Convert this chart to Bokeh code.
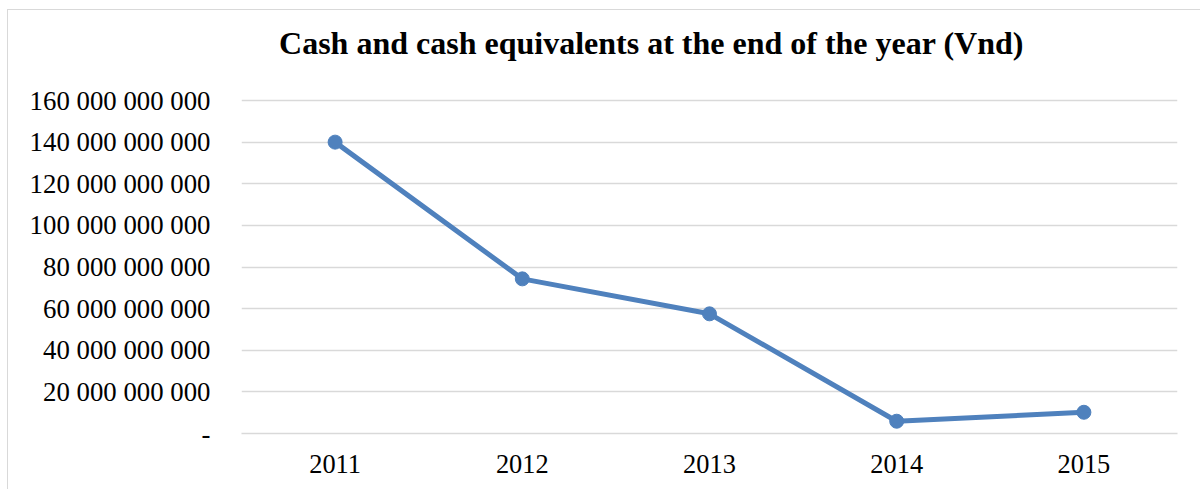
from bokeh.plotting import figure
from bokeh.models import FixedTicker, Range1d, Label
from bokeh.embed import file_html
from bokeh.resources import INLINE

years = ["2011", "2012", "2013", "2014", "2015"]
cash = [140.0e9, 74.3e9, 57.5e9, 5.9e9, 10.2e9]
tick_values = [0, 20e9, 40e9, 60e9, 80e9, 100e9, 120e9, 140e9, 160e9]
tick_labels = ["-", "20 000 000 000", "40 000 000 000", "60 000 000 000",
               "80 000 000 000", "100 000 000 000", "120 000 000 000",
               "140 000 000 000", "160 000 000 000"]
title_text = "Cash and cash equivalents at the end of the year (Vnd)"

FONT = "Liberation Serif"
BLUE = "#4f81bd"
GRID = "#d9d9d9"

# layout: frame spans from 10px (figure) to 423px; top gridline (160B) sits 333px above bottom
FRAME_H = 413
GRID_H = 333
y_top = tick_values[-1] * FRAME_H / GRID_H

p = figure(x_range=years, y_range=Range1d(0, y_top), width=1193, height=480,
           output_backend="svg", toolbar_location=None,
           min_border_left=233, min_border_right=24, min_border_top=10,
           min_border_bottom=57)
p.styles = {"margin-left": "7px", "margin-top": "9px",
            "border-left": "1px solid #d9d9d9", "border-top": "1px solid #d9d9d9"}

title = Label(x=410, y=391, x_units="screen", y_units="screen", text=title_text,
              text_font=FONT, text_font_size="32px", text_font_style="bold",
              text_color="#000000", text_align="center", text_baseline="middle")
p.add_layout(title)

p.outline_line_color = None
p.background_fill_color = "white"
p.border_fill_color = "white"

p.line(years, cash, line_color=BLUE, line_width=5)
p.scatter(years, cash, size=14, fill_color=BLUE, line_color=BLUE)

p.yaxis.ticker = FixedTicker(ticks=tick_values)
p.yaxis.major_label_overrides = {int(v): l for v, l in zip(tick_values, tick_labels)}
p.yaxis.axis_line_color = None
p.yaxis.major_tick_line_color = None
p.yaxis.minor_tick_line_color = None
p.yaxis.major_label_standoff = 25
p.yaxis.major_label_text_font = FONT
p.yaxis.major_label_text_font_size = "26.8px"
p.yaxis.major_label_text_color = "#000000"

p.xaxis.axis_line_color = GRID
p.xaxis.axis_line_width = 1.5
p.xaxis.major_tick_line_color = None
p.xaxis.minor_tick_line_color = None
p.xaxis.major_label_standoff = 15
p.xaxis.major_label_text_font = FONT
p.xaxis.major_label_text_font_size = "26.4px"
p.xaxis.major_label_text_color = "#000000"

p.xgrid.grid_line_color = None
p.ygrid.grid_line_color = GRID
p.ygrid.grid_line_width = 1.5

open("out.html", "w").write(file_html(p, INLINE))
